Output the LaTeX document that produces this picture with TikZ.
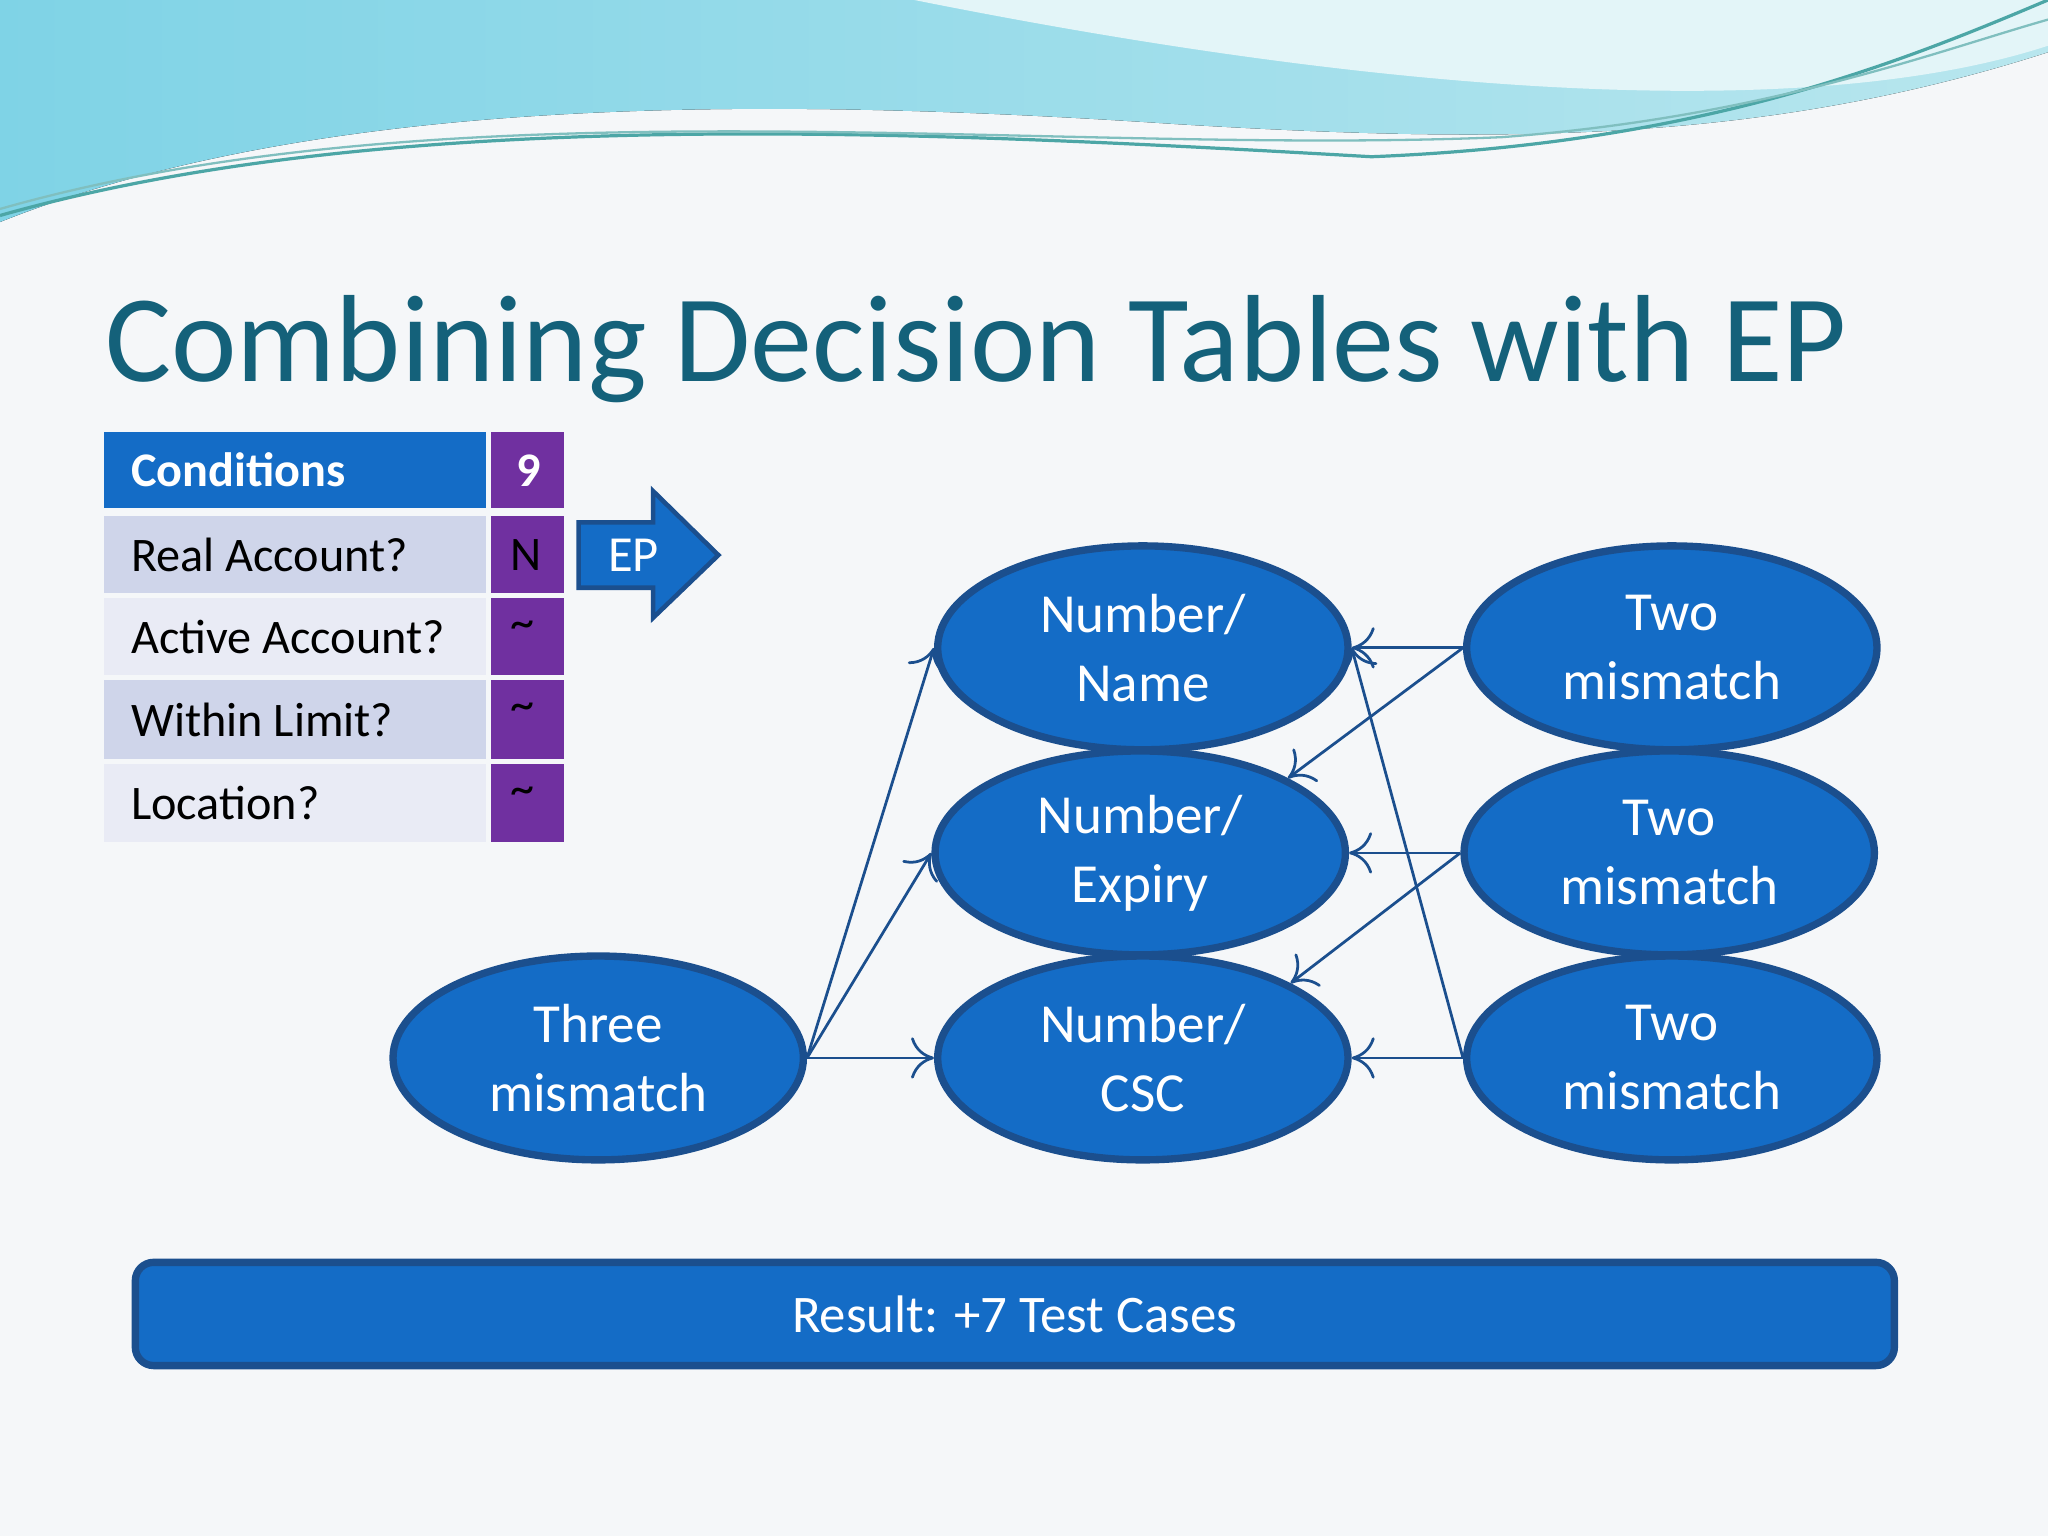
\documentclass[tikz,border=0pt]{standalone}
\usepackage{fontspec}
\setmainfont{Carlito}
\usetikzlibrary{shapes.geometric,arrows.meta,shapes.arrows}
\definecolor{bg}{HTML}{F5F7F9}
\definecolor{nodeblue}{HTML}{146CC6}
\definecolor{edgeblue}{HTML}{1B4F8E}
\definecolor{titlecol}{HTML}{14617A}
\definecolor{purp}{HTML}{7030A0}
\definecolor{rowa}{HTML}{CFD5EA}
\definecolor{rowb}{HTML}{E9EBF5}
\definecolor{wave1}{HTML}{7FD3E6}
\definecolor{wave2}{HTML}{B8E6EE}
\tikzset{
 ell/.style={ellipse,draw=edgeblue,line width=1.6pt,fill=nodeblue,minimum width=3.14cm,minimum height=1.56cm,text=white,font=\fontsize{12}{15}\selectfont,align=center,inner sep=0pt},
 conn/.style={draw=edgeblue,line width=0.6pt,-{To[length=5pt,width=9pt]}},
 cell/.style={anchor=north west,inner sep=0pt,font=\fontsize{10.5}{12}\selectfont}
}
\begin{document}
\begin{tikzpicture}[x=0.01cm,y=-0.01cm]
\fill[bg] (0,0) rectangle (1568,1176);
\useasboundingbox (0,0) rectangle (1568,1176);
% waves
\fill[left color=wave1,right color=wave2] (0,0) -- (1568,0) -- (1568,40) .. controls (1350,110) and (1150,110) .. (900,95) .. controls (600,75) and (250,70) .. (0,170) -- cycle;
\fill[white!60!wave2] (700,0) -- (1568,0) -- (1568,35) .. controls (1400,90) and (1100,80) .. (700,0) -- cycle;
\draw[teal!70,line width=0.7pt] (0,165) .. controls (300,80) and (700,100) .. (1050,120) .. controls (1300,110) and (1450,50) .. (1568,0);
\draw[teal!50,line width=0.5pt] (0,160) .. controls (350,60) and (800,120) .. (1150,105) .. controls (1350,90) and (1480,40) .. (1568,15);
% title
\node[anchor=base west,inner sep=0pt,text=titlecol,font=\fontsize{27}{30}\selectfont] (title) at (80,292) {Combining Decision Tables with EP};
% table
\fill[nodeblue] (80,331) rectangle (372,389);
\fill[purp] (376,331) rectangle (432,389);
\node[anchor=west,text=white,font=\bfseries\fontsize{10.5}{12}\selectfont] (h1) at (88,360) {Conditions};
\node[anchor=west,text=white,font=\bfseries\fontsize{10.5}{12}\selectfont] (h2) at (383,360) {9};
\fill[rowa] (80,395) rectangle (372,454); \fill[purp] (376,395) rectangle (432,454);
\fill[rowb] (80,458) rectangle (372,517); \fill[purp] (376,458) rectangle (432,517);
\fill[rowa] (80,521) rectangle (372,581); \fill[purp] (376,521) rectangle (432,581);
\fill[rowb] (80,585) rectangle (372,645); \fill[purp] (376,585) rectangle (432,645);
\node[anchor=west,font=\fontsize{10.5}{12}\selectfont] (r1) at (88,425) {Real Account?};
\node[anchor=west,font=\fontsize{10.5}{12}\selectfont] (r2) at (88,488) {Active Account?};
\node[anchor=west,font=\fontsize{10.5}{12}\selectfont] (r3) at (88,551) {Within Limit?};
\node[anchor=west,font=\fontsize{10.5}{12}\selectfont] (r4) at (88,615) {Location?};
\node[font=\fontsize{10.5}{12}\selectfont] (v1) at (403,425) {N};
\node[font=\fontsize{10.5}{12}\selectfont] (v2) at (400,482) {\textasciitilde};
\node[font=\fontsize{10.5}{12}\selectfont] (v3) at (400,545) {\textasciitilde};
\node[font=\fontsize{10.5}{12}\selectfont] (v4) at (400,609) {\textasciitilde};
% EP arrow
\draw[fill=nodeblue,draw=edgeblue,line width=1pt] (443,400) -- (500,400) -- (500,376) -- (550,425) -- (500,473) -- (500,450) -- (443,450) -- cycle;
\node[text=white,font=\fontsize{11}{12}\selectfont] (ep) at (485,425) {EP};
% ellipses
\node[ell] (nn) at (875,496) {Number/\\Name};
\node[ell] (ne) at (873,653) {Number/\\Expiry};
\node[ell] (nc) at (875,810) {Number/\\CSC};
\node[ell] (t1) at (1280,496) {Two\\mismatch};
\node[ell] (t2) at (1278,653) {Two\\mismatch};
\node[ell] (t3) at (1280,810) {Two\\mismatch};
\node[ell] (th) at (458,810) {Three\\mismatch};
\draw[conn] (th.east) -- (nn.west);
\draw[conn] (th.east) -- (ne.west);
\draw[conn] (th.east) -- (nc.west);
\draw[conn] (t1.west) -- (nn.east);
\draw[conn] (t1.west) -- (ne.north east);
\draw[conn] (t2.west) -- (ne.east);
\draw[conn] (t2.west) -- (nc.north east);
\draw[conn] (t3.west) -- (nc.east);
\draw[conn] (t3.west) -- (nn.east);
% result
\node[draw=edgeblue,line width=1.6pt,fill=nodeblue,rounded corners=4pt,minimum width=13.46cm,minimum height=0.79cm,text=white,font=\fontsize{11.5}{13}\selectfont] (res) at (777,1006) {Result: +7 Test Cases};
\end{tikzpicture}
\end{document}
